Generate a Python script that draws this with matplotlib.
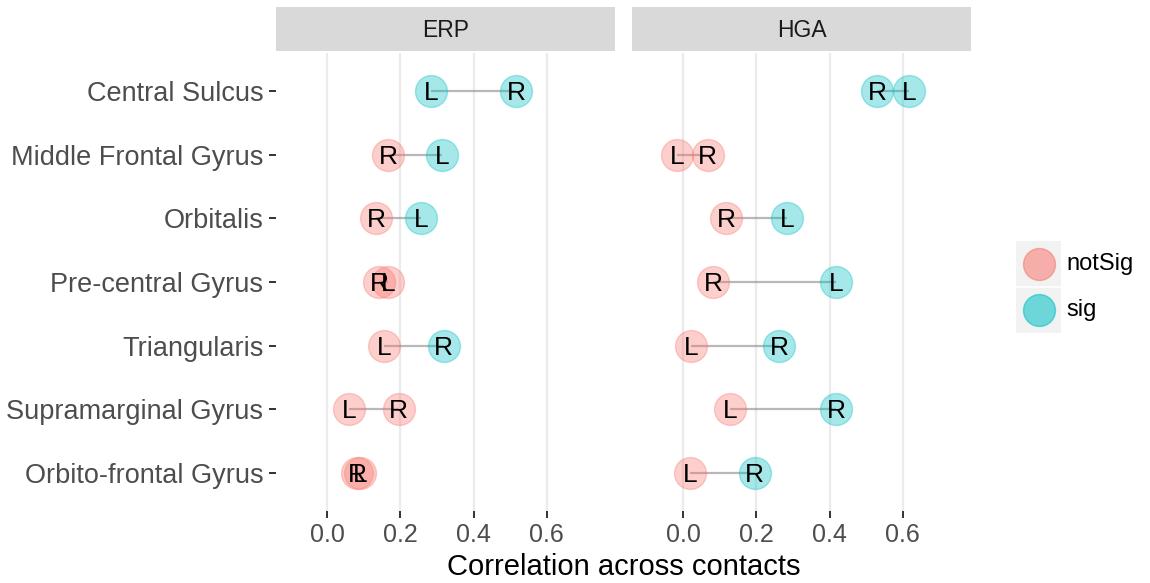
import matplotlib
matplotlib.use("Agg")
import matplotlib.pyplot as plt
import numpy as np

plt.rcParams['font.family'] = ['Liberation Sans', 'DejaVu Sans']

# ---- data ----
regions = ["Central Sulcus", "Middle Frontal Gyrus", "Orbitalis", "Pre-central Gyrus",
           "Triangularis", "Supramarginal Gyrus", "Orbito-frontal Gyrus"]
panels = ["ERP", "HGA"]

ERP_L = [0.284, 0.313, 0.256, 0.167, 0.156, 0.061, 0.089]
ERP_R = [0.517, 0.167, 0.134, 0.143, 0.318, 0.195, 0.082]
ERP_L_sig = [True, True, True, False, False, False, False]
ERP_R_sig = [True, False, False, False, True, False, False]

HGA_L = [0.617, -0.017, 0.285, 0.418, 0.022, 0.129, 0.018]
HGA_R = [0.530, 0.067, 0.118, 0.082, 0.262, 0.418, 0.195]
HGA_L_sig = [True, False, True, True, False, False, False]
HGA_R_sig = [True, False, False, False, True, True, True]

x_ticks = [0.0, 0.2, 0.4, 0.6]
x_tick_labels = ["0.0", "0.2", "0.4", "0.6"]
legend_levels = ["notSig", "sig"]

# ---- style ----
COL = {"notSig": "#F8766D", "sig": "#00BFC4"}
W, H = 1150, 583
fig = plt.figure(figsize=(W / 100, H / 100), dpi=100)


def fx(px):
    return px / W


def fy(py):
    return 1 - py / H


panel_data = {
    "ERP": (ERP_L, ERP_R, ERP_L_sig, ERP_R_sig),
    "HGA": (HGA_L, HGA_R, HGA_L_sig, HGA_R_sig),
}
panel_left = {"ERP": 276, "HGA": 632}
panel_w = 339
top_px, bot_px = 53, 511
strip_top = 7

n = len(regions)
ypos = np.arange(n)[::-1] + 1  # top region at top

for pname in panels:
    L, R, Ls, Rs = panel_data[pname]
    left = panel_left[pname]
    ax = fig.add_axes([fx(left), fy(bot_px), fx(panel_w), (bot_px - top_px) / H])
    ax.set_xlim(-0.1395, 0.786)
    ax.set_ylim(0.4, n + 0.6)
    ax.set_facecolor("white")
    for s in ax.spines.values():
        s.set_visible(False)
    for xt in x_ticks:
        ax.axvline(xt, color="#EBEBEB", lw=1.6, zorder=0)
    # segments
    for i in range(n):
        ax.plot([L[i], R[i]], [ypos[i], ypos[i]], color="#7F7F7F", alpha=0.55, lw=1.6,
                solid_capstyle="butt", zorder=1)
    # points
    for vals, sigs in ((L, Ls), (R, Rs)):
        for i in range(n):
            c = COL["sig"] if sigs[i] else COL["notSig"]
            ax.plot(vals[i], ypos[i], "o", ms=23, mfc=c, mec=c, mew=1.0, alpha=0.35, zorder=2)
    # labels
    for i in range(n):
        ax.text(L[i], ypos[i] - 0.03, "L", ha="center", va="center", fontsize=19, color="black", zorder=3)
        ax.text(R[i], ypos[i] - 0.03, "R", ha="center", va="center", fontsize=19, color="black", zorder=3)
    ax.set_xticks(x_ticks)
    ax.set_xticklabels(x_tick_labels)
    ax.tick_params(axis="x", length=5, width=1.4, color="#333333", labelsize=18, labelcolor="#4D4D4D", pad=4)
    ax.set_yticks(ypos)
    if pname == "ERP":
        ax.set_yticklabels(regions)
        ax.tick_params(axis="y", length=5, width=1.4, color="#333333", labelsize=19.5,
                       labelcolor="#4D4D4D", pad=4)
    else:
        ax.tick_params(axis="y", length=0, labelleft=False)
    # strip
    sax = fig.add_axes([fx(left), fy(top_px - 2), fx(panel_w), (top_px - 2 - strip_top) / H])
    sax.set_facecolor("#D9D9D9")
    sax.set_xticks([]); sax.set_yticks([])
    for s in sax.spines.values():
        s.set_visible(False)
    sax.text(0.5, 0.47, pname, ha="center", va="center", fontsize=16.5, color="#1A1A1A",
             transform=sax.transAxes)

# axis title
fig.text(fx((276 + 971) / 2), fy(567), "Correlation across contacts", ha="center", va="center",
         fontsize=21, color="black")

# legend
lax = fig.add_axes([fx(1016), fy(333), fx(45), 92 / H])
lax.set_xlim(0, 1); lax.set_ylim(0, 2)
lax.set_facecolor("#F2F2F2")
lax.set_xticks([]); lax.set_yticks([])
for s in lax.spines.values():
    s.set_visible(False)
lax.axhline(1, color="white", lw=1.2)
for k, lev in enumerate(legend_levels):
    yy = 1.5 - k
    lax.plot(0.5, yy, "o", ms=23, mfc=COL[lev], mec=COL[lev], mew=1.0, alpha=0.55)
    fig.text(fx(1066), fy(241 + 23 + 46 * k), lev, ha="left", va="center", fontsize=17, color="black")

fig.savefig("out.png", dpi=100)
